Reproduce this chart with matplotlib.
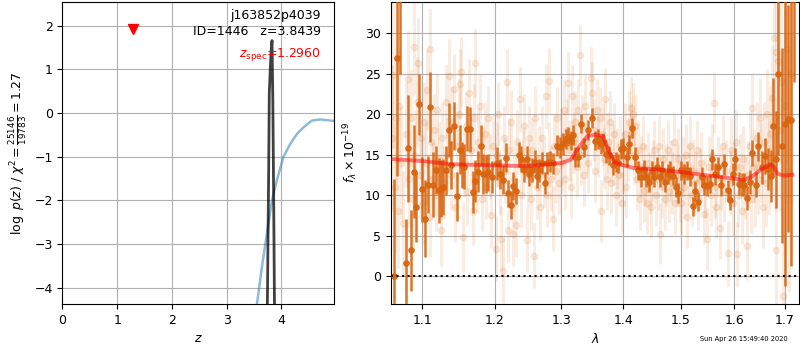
import matplotlib
matplotlib.use("Agg")
import matplotlib.pyplot as plt
from matplotlib.ticker import FixedLocator, FixedFormatter, NullLocator

plt.rcParams["font.size"] = 9

# ---- redshift fit: log p(z) and the smooth template curve ----
pz_z = [3.60, 3.745, 3.770, 3.780, 3.800, 3.815, 3.830, 3.845, 3.860, 3.875, 3.95]
pz_logp = [-14.0, -4.40, -1.20, 0.45, 1.05, 1.45, 1.66, 0.30, -1.90, -4.40, -14.0]

curve_z = [3.50, 3.555, 3.647, 3.738, 3.830, 3.920, 4.040, 4.165, 4.290, 4.410,
           4.560, 4.710, 4.970]
curve_logp = [-5.5, -4.37, -3.51, -2.75, -1.99, -1.53, -1.00, -0.70, -0.47,
              -0.32, -0.17, -0.145, -0.18]

z_spec = 1.2960
z_spec_level = 1.93
z_best = 3.8439
obj_root = "j163852p4039"
obj_id = 1446
chi2_num, chi2_den, chi2_red = 25146, 19783, 1.27

# ---- binned spectrum ----
bin_wave = [1.0630, 1.0666, 1.0710, 1.0782, 1.0811, 1.0853, 1.0886, 1.0920, 1.0949,
            1.0999, 1.1033, 1.1071, 1.1097, 1.1141, 1.1175, 1.1220, 1.1246, 1.1280,
            1.1315, 1.1359, 1.1390, 1.1424, 1.1464, 1.1508, 1.1535, 1.1570, 1.1605,
            1.1649, 1.1685, 1.1720, 1.1756, 1.1795, 1.1835, 1.1875, 1.1907, 1.1965,
            1.2033, 1.2069, 1.2114, 1.2159, 1.2196, 1.2233, 1.2269, 1.2316, 1.2352,
            1.2389, 1.2421, 1.2469, 1.2505, 1.2548, 1.2586, 1.2624, 1.2661, 1.2700,
            1.2738, 1.2776, 1.2824, 1.2862, 1.2932, 1.2980, 1.3030, 1.3069, 1.3108,
            1.3143, 1.3179, 1.3219, 1.3260, 1.3310, 1.3363, 1.3425, 1.3481, 1.3528,
            1.3582, 1.3624, 1.3667, 1.3715, 1.3768, 1.3823, 1.3878, 1.3916, 1.3960,
            1.4005, 1.4060, 1.4105, 1.4144, 1.4194, 1.4250, 1.4295, 1.4352, 1.4398,
            1.4445, 1.4490, 1.4536, 1.4584, 1.4629, 1.4676, 1.4724, 1.4770, 1.4819,
            1.4867, 1.4914, 1.4962, 1.5011, 1.5059, 1.5121, 1.5170, 1.5220, 1.5270,
            1.5319, 1.5383, 1.5432, 1.5484, 1.5535, 1.5586, 1.5638, 1.5690, 1.5741,
            1.5800, 1.5873, 1.5913, 1.5967, 1.6019, 1.6088, 1.6141, 1.6196, 1.6251,
            1.6305, 1.6346, 1.6417, 1.6471, 1.6543, 1.6598, 1.6655, 1.6713, 1.6770,
            1.6821, 1.6871, 1.6944, 1.7003, 1.7063, 1.7137, 1.7190]
bin_flux = [0.0, 26.9, 38.0, 1.6, 15.8, 3.2, 12.9, 8.5, 21.2,
            10.7, 7.1, 11.3, 20.9, 11.3, 13.1, 10.6, 10.8, 11.0,
            13.05, 18.0, 13.7, 18.5, 9.85, 15.6, 13.7, 13.5, 18.2,
            18.1, 10.4, 11.7, 12.9, 16.1, 12.6, 12.6, 12.8, 12.2,
            13.9, 12.6, 11.9, 14.6, 10.2, 8.8, 11.1, 10.5, 15.0,
            14.5, 13.1, 14.5, 12.6, 13.1, 14.1, 12.3, 13.05, 13.95,
            11.5, 13.95, 14.1, 13.9, 16.1, 15.9, 16.3, 16.9, 17.2,
            16.7, 17.4, 14.7, 14.7, 18.8, 15.9, 18.0, 19.5, 16.7,
            16.9, 16.25, 16.5, 15.1, 14.9, 13.7, 14.1, 13.9, 15.7,
            15.8, 14.7, 16.25, 18.3, 14.7, 13.05, 12.2, 13.1, 12.2,
            11.6, 13.0, 12.2, 13.5, 12.2, 13.05, 11.6, 12.6, 13.05,
            12.4, 11.0, 10.25, 13.05, 12.6, 13.05, 12.3, 8.6, 10.5,
            9.2, 12.2, 11.2, 11.1, 11.4, 14.4, 12.6, 13.4, 11.2,
            13.8, 10.6, 9.4, 12.6, 14.4, 11.4, 11.3, 11.3, 9.6,
            11.6, 15.2, 11.3, 16.0, 13.4, 14.8, 13.2, 12.4, 18.5,
            14.4, 25.0, 16.1, 18.8, 19.4, 19.3, 36.0]
bin_err = [12.0, 14.5, 13.0, 5.5, 6.6, 5.0, 5.7, 4.3, 3.8,
           4.0, 4.7, 3.5, 4.3, 4.0, 3.0, 4.0, 3.5, 3.5,
           3.0, 3.3, 3.0, 3.0, 3.0, 3.0, 2.8, 2.8, 2.8,
           2.8, 2.6, 2.6, 2.5, 2.5, 2.5, 2.3, 2.3, 2.0,
           2.0, 1.8, 1.8, 1.8, 1.7, 1.7, 1.7, 1.6, 1.6,
           1.6, 1.5, 1.5, 1.5, 1.5, 1.4, 1.4, 1.4, 1.4,
           1.4, 1.3, 1.3, 1.3, 1.3, 1.3, 1.3, 1.2, 1.2,
           1.2, 1.2, 1.2, 1.2, 1.2, 1.2, 1.2, 1.2, 1.2,
           1.2, 1.2, 1.2, 1.2, 1.2, 1.2, 1.2, 1.2, 1.2,
           1.2, 1.2, 1.2, 1.2, 1.2, 1.2, 1.2, 1.2, 1.2,
           1.2, 1.2, 1.2, 1.2, 1.2, 1.2, 1.2, 1.2, 1.2,
           1.2, 1.2, 1.2, 1.2, 1.2, 1.2, 1.2, 1.2, 1.2,
           1.2, 1.2, 1.2, 1.2, 1.2, 1.3, 1.3, 1.3, 1.3,
           1.3, 1.3, 1.3, 1.3, 1.4, 1.4, 1.4, 1.4, 1.5,
           1.5, 1.6, 1.6, 1.8, 2.0, 2.2, 2.6, 3.2, 6.0,
           6.0, 10.0, 12.0, 20.0, 14.0, 18.0, 12.0]

# ---- individual-exposure spectra ----
exp_wave = [1.0600, 1.0620, 1.0640, 1.0660, 1.0680, 1.0700, 1.0720, 1.0750, 1.0780,
            1.0812, 1.0830, 1.0850, 1.0870, 1.0886, 1.0905, 1.0925, 1.0948, 1.0965,
            1.0985, 1.1005, 1.1025, 1.1045, 1.1065, 1.1094, 1.1097, 1.1115, 1.1135,
            1.1155, 1.1175, 1.1195, 1.1220, 1.1245, 1.1265, 1.1290, 1.1310, 1.1335,
            1.1359, 1.1380, 1.1400, 1.1425, 1.1445, 1.1465, 1.1490, 1.1505, 1.1518,
            1.1544, 1.1560, 1.1585, 1.1610, 1.1638, 1.1660, 1.1685, 1.1700, 1.1718,
            1.1740, 1.1760, 1.1785, 1.1810, 1.1830, 1.1855, 1.1880, 1.1900, 1.1925,
            1.1950, 1.1975, 1.2011, 1.2030, 1.2050, 1.2070, 1.2090, 1.2114, 1.2130,
            1.2150, 1.2171, 1.2194, 1.2210, 1.2230, 1.2263, 1.2285, 1.2310, 1.2330,
            1.2366, 1.2390, 1.2410, 1.2435, 1.2467, 1.2490, 1.2510, 1.2535, 1.2555,
            1.2576, 1.2600, 1.2625, 1.2650, 1.2675, 1.2700, 1.2725, 1.2753, 1.2775,
            1.2800, 1.2814, 1.2840, 1.2863, 1.2885, 1.2910, 1.2935, 1.2960, 1.2985,
            1.3010, 1.3035, 1.3060, 1.3085, 1.3108, 1.3130, 1.3150, 1.3170, 1.3190,
            1.3215, 1.3240, 1.3265, 1.3296, 1.3310, 1.3330, 1.3355, 1.3380, 1.3400,
            1.3425, 1.3463, 1.3487, 1.3510, 1.3535, 1.3560, 1.3585, 1.3610, 1.3640,
            1.3660, 1.3685, 1.3705, 1.3730, 1.3755, 1.3780, 1.3805, 1.3830, 1.3855,
            1.3880, 1.3905, 1.3930, 1.3955, 1.3980, 1.4005, 1.4030, 1.4055, 1.4080,
            1.4105, 1.4124, 1.4140, 1.4160, 1.4180, 1.4205, 1.4230, 1.4255, 1.4280,
            1.4305, 1.4330, 1.4355, 1.4380, 1.4405, 1.4430, 1.4455, 1.4480, 1.4505,
            1.4530, 1.4560, 1.4590, 1.4615, 1.4637, 1.4660, 1.4690, 1.4715, 1.4740,
            1.4770, 1.4795, 1.4820, 1.4850, 1.4875, 1.4900, 1.4930, 1.4960, 1.4985,
            1.5010, 1.5040, 1.5065, 1.5090, 1.5120, 1.5150, 1.5175, 1.5200, 1.5230,
            1.5260, 1.5290, 1.5320, 1.5350, 1.5380, 1.5420, 1.5450, 1.5490, 1.5520,
            1.5550, 1.5580, 1.5606, 1.5630, 1.5660, 1.5690, 1.5718, 1.5750, 1.5780,
            1.5810, 1.5840, 1.5887, 1.5910, 1.5940, 1.5970, 1.6000, 1.6030, 1.6055,
            1.6080, 1.6110, 1.6140, 1.6170, 1.6200, 1.6243, 1.6270, 1.6300, 1.6330,
            1.6353, 1.6380, 1.6410, 1.6440, 1.6470, 1.6500, 1.6530, 1.6560, 1.6590,
            1.6620, 1.6650, 1.6680, 1.6710, 1.6740, 1.6774, 1.6800, 1.6823, 1.6830,
            1.6868, 1.6900, 1.6930, 1.6962, 1.7000, 1.7040, 1.7080, 1.7120]
exp_flux = [17.0, 24.8, 11.0, 19.5, 8.0, 21.0, 14.0, 6.5, 17.5,
            24.3, 12.0, 19.5, 9.5, 28.3, 15.0, 21.5, 26.3, 12.5,
            17.0, 9.0, 19.0, 14.0, 23.0, 28.0, 7.3, 16.5, 12.0,
            18.0, 10.0, 20.5, 14.5, 5.7, 17.0, 11.5, 21.5, 15.0,
            24.7, 12.5, 19.0, 23.1, 8.5, 16.0, 20.0, 23.7, 25.2,
            4.8, 14.0, 18.5, 10.5, 22.6, 15.5, 8.0, 19.5, 26.3,
            12.0, 16.5, 21.0, 9.5, 14.5, 17.5, 11.0, 19.5, 13.5,
            7.5, 16.0, 3.4, 15.0, 20.0, 11.5, 4.6, 0.65, 17.0,
            13.0, 24.0, 5.7, 15.5, 19.0, 5.25, 12.0, 6.3, 16.5,
            21.8, 10.0, 14.0, 18.5, 4.5, 12.5, 17.0, 9.5, 15.5,
            2.5, 19.5, 11.0, 14.5, 8.5, 17.0, 12.5, 22.2, 10.0,
            15.0, 24.1, 12.0, 7.1, 16.0, 13.0, 19.5, 11.5, 17.0,
            14.0, 20.5, 12.0, 18.0, 23.8, 15.5, 11.0, 22.2, 16.5,
            19.0, 13.5, 20.5, 27.3, 15.0, 18.5, 12.5, 21.0, 16.5,
            14.0, 24.5, 22.6, 18.0, 13.0, 20.5, 16.0, 19.5, 8.0,
            17.5, 14.5, 21.9, 12.0, 16.5, 19.0, 11.5, 15.0, 17.5,
            10.0, 14.5, 12.5, 16.0, 9.0, 14.0, 17.5, 11.0, 15.5,
            19.0, 20.8, 17.5, 20.0, 15.0, 18.5, 12.0, 15.5, 9.5,
            13.5, 16.0, 10.5, 12.5, 9.0, 14.0, 11.5, 8.5, 13.0,
            15.5, 10.0, 12.0, 16.0, 5.25, 11.0, 14.5, 9.5, 12.5,
            15.5, 10.5, 13.0, 11.5, 16.5, 9.0, 12.5, 14.5, 10.5,
            9.0, 13.5, 11.0, 15.0, 7.3, 12.5, 16.0, 10.0, 13.0,
            11.5, 15.5, 9.5, 12.0, 14.0, 7.7, 11.0, 4.6, 13.5,
            10.0, 15.0, 21.4, 11.0, 8.5, 13.5, 5.9, 12.0, 16.0,
            10.5, 13.0, 2.8, 11.5, 15.5, 9.0, 12.5, 16.5, 2.7,
            10.0, 13.5, 8.0, 14.5, 11.0, 3.7, 12.5, 16.0, 9.5,
            20.8, 13.5, 10.5, 17.0, 12.0, 19.5, 14.0, 8.5, 16.5,
            11.5, 20.0, 13.5, 17.5, 22.0, 29.4, 15.0, 27.6, 3.2,
            26.6, 18.0, 24.0, -2.5, 21.0, 28.0, 13.0, 25.0]
exp_err = [9.0, 9.0, 8.0, 8.0, 7.0, 7.0, 7.0, 6.5, 6.5,
           6.0, 6.0, 6.0, 6.0, 6.0, 5.5, 5.5, 5.5, 5.5,
           5.0, 5.0, 5.0, 5.0, 5.0, 5.0, 5.0, 4.5, 4.5,
           4.5, 4.5, 4.5, 4.5, 4.5, 4.5, 4.5, 4.5, 4.5,
           4.5, 4.3, 4.3, 4.3, 4.3, 4.3, 4.3, 4.3, 4.3,
           4.3, 4.2, 4.2, 4.2, 4.2, 4.2, 4.2, 4.2, 4.2,
           4.2, 4.2, 4.0, 4.0, 4.0, 4.0, 4.0, 4.0, 4.0,
           4.0, 4.0, 4.0, 4.0, 4.0, 4.0, 4.0, 4.0, 4.0,
           4.0, 4.0, 4.0, 4.0, 4.0, 4.0, 4.0, 4.0, 4.0,
           4.0, 4.0, 4.0, 4.0, 4.0, 4.0, 4.0, 4.0, 4.0,
           4.0, 4.0, 4.0, 4.0, 4.0, 4.0, 4.0, 4.0, 4.0,
           4.0, 4.0, 4.0, 4.0, 4.0, 4.0, 3.8, 3.8, 3.8,
           3.8, 3.8, 3.8, 3.8, 3.8, 3.8, 3.8, 3.8, 3.8,
           3.8, 3.8, 3.8, 3.8, 3.8, 3.8, 3.8, 3.8, 3.8,
           3.8, 3.8, 3.8, 3.8, 3.8, 3.8, 3.8, 3.8, 3.8,
           3.8, 3.8, 3.8, 3.8, 3.8, 3.8, 3.8, 3.8, 3.8,
           3.8, 3.8, 3.8, 3.8, 3.8, 3.8, 3.8, 3.8, 3.8,
           3.8, 3.8, 3.8, 3.8, 3.8, 3.8, 3.8, 3.8, 3.8,
           3.8, 3.8, 3.8, 3.8, 3.8, 3.8, 3.8, 3.8, 3.8,
           3.8, 3.8, 3.8, 3.8, 3.8, 3.8, 3.8, 3.8, 3.8,
           3.8, 3.8, 3.8, 3.8, 3.8, 3.8, 3.8, 3.8, 3.8,
           3.8, 3.8, 3.8, 3.8, 3.8, 3.8, 3.8, 3.8, 3.8,
           3.8, 3.8, 3.8, 3.8, 3.8, 3.8, 3.8, 3.8, 3.8,
           3.8, 3.8, 3.8, 3.8, 3.8, 3.8, 3.8, 3.8, 3.8,
           3.8, 3.8, 4.0, 4.0, 4.0, 4.0, 4.0, 4.0, 4.0,
           4.0, 4.0, 4.0, 4.0, 4.0, 4.2, 4.2, 4.2, 4.2,
           4.2, 4.5, 4.5, 4.5, 4.5, 5.0, 5.0, 5.0, 5.0,
           5.5, 5.5, 6.0, 6.0, 6.5, 7.0, 7.0, 8.0, 8.0,
           9.0, 10.0, 10.0, 11.0, 12.0, 14.0, 15.0, 16.0]

# ---- best-fit template ----
model_wave = [1.061, 1.100, 1.138, 1.200, 1.248, 1.300, 1.3144, 1.3275, 1.3410,
              1.3545, 1.3672, 1.3735, 1.3846, 1.400, 1.4181, 1.4527, 1.500, 1.5488,
              1.600, 1.6184, 1.6348, 1.6515, 1.6711, 1.678, 1.685, 1.698, 1.7159]
model_flux = [14.44, 14.2, 13.8, 13.67, 13.55, 13.95, 14.36, 15.92, 17.28,
              17.44, 17.23, 15.9, 14.08, 13.67, 13.34, 13.2, 12.84, 12.43,
              12.02, 11.82, 12.31, 13.13, 13.79, 13.46, 12.64, 12.4, 12.5]

wave_ticks = [1.1, 1.2, 1.3, 1.4, 1.5, 1.6, 1.7]
flux_ticks = [0, 5, 10, 15, 20, 25, 30]
stamp = "Sun Apr 26 15:49:40 2020"

spec_color = "#d9650f"

fig = plt.figure(figsize=(8, 3.5), dpi=100)
ax_z = fig.add_axes([0.078, 0.1314, 0.340, 0.8637])
ax_s = fig.add_axes([0.4884, 0.1314, 0.5109, 0.8637])

# left: redshift probability
ax_z.plot(curve_z, curve_logp, color="C0", alpha=0.5, lw=1.8)
ax_z.plot(pz_z, pz_logp, color="k", alpha=0.75, lw=2)
ax_z.plot([z_spec], [z_spec_level], marker="v", color="r", ms=7, ls="none")
ax_z.set_xlim(0, 4.97)
ax_z.set_ylim(-4.37, 2.55)
ax_z.set_xticks([0, 1, 2, 3, 4])
ax_z.set_yticks([-4, -3, -2, -1, 0, 1, 2])
ax_z.grid(True)
ax_z.set_axisbelow(True)
ax_z.set_xlabel(r"$z$")
ax_z.set_ylabel(r"$\log\ p(z)$" + " / " +
                r"$\chi^2=\frac{%d}{%d}=%.2f$" % (chi2_num, chi2_den, chi2_red))
ax_z.text(0.95, 0.975, obj_root + "\n" + "ID=%d   z=%.4f" % (obj_id, z_best),
          ha="right", va="top", transform=ax_z.transAxes, fontsize=9,
          linespacing=1.25)
ax_z.text(0.95, 0.825, r"$z_\mathrm{spec}$=%.4f" % z_spec, ha="right", va="center",
          transform=ax_z.transAxes, fontsize=9, color="r")

# right: spectrum
ax_s.errorbar(exp_wave, exp_flux, yerr=exp_err, fmt="o", color=spec_color,
              alpha=0.12, ms=4.5, elinewidth=2.2, capsize=0, zorder=2)
ax_s.errorbar(bin_wave, bin_flux, yerr=bin_err, fmt="o", color=spec_color,
              alpha=0.9, ms=3.8, elinewidth=1.8, capsize=0, zorder=3)
ax_s.plot(model_wave, model_flux, color="r", alpha=0.5, lw=2.8, zorder=4)
ax_s.axhline(0, color="k", ls=":", lw=1.5, zorder=5)

ax_s.set_xscale("log")
ax_s.set_xlim(1.0589, 1.7302)
ax_s.set_ylim(-3.45, 33.86)
ax_s.xaxis.set_major_locator(FixedLocator(wave_ticks))
ax_s.xaxis.set_major_formatter(FixedFormatter(["%.1f" % w for w in wave_ticks]))
ax_s.xaxis.set_minor_locator(NullLocator())
ax_s.set_yticks(flux_ticks)
ax_s.grid(True)
ax_s.set_axisbelow(True)
ax_s.set_xlabel(r"$\lambda$")
ax_s.set_ylabel(r"$f_\lambda\times10^{-19}$")

fig.text(0.985, 0.031, stamp, ha="right", va="center", fontsize=4.8)

fig.savefig("out.png", dpi=100)
